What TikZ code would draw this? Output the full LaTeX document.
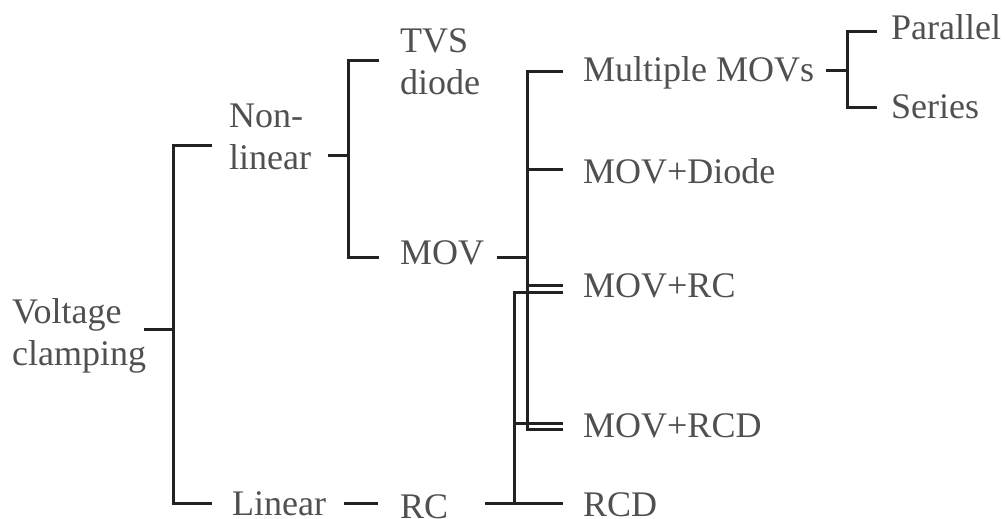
\documentclass[tikz,border=0pt]{standalone}
\usepackage{fontspec}
\setmainfont{Liberation Serif}
\definecolor{txt}{HTML}{505050}
\definecolor{ln}{HTML}{222222}
\begin{document}
\begin{tikzpicture}[x=1pt,y=-1pt,
  lbl/.style={anchor=base west,inner sep=0pt,font=\fontsize{36}{42}\selectfont,text=txt,align=left},
  conn/.style={line width=3pt,draw=ln}]
\useasboundingbox (0,0) rectangle (1005,519);
% labels (base = baseline of last line)
\node[lbl] (vc)  at (12,365)  {Voltage\\clamping};
\node[lbl] (nl)  at (229,169) {Non-\\linear};
\node[lbl] (lin) at (232,515) {Linear};
\node[lbl] (tvs) at (400,95)  {TVS\\diode};
\node[lbl] (mov) at (400,264) {MOV};
\node[lbl] (rc)  at (400,518) {RC};
\node[lbl] (mm)  at (583,82)  {Multiple MOVs};
\node[lbl] (md)  at (583,183) {MOV+Diode};
\node[lbl] (mrc) at (583,297) {MOV+RC};
\node[lbl] (mrcd) at (583,437) {MOV+RCD};
\node[lbl] (rcd) at (583,516) {RCD};
\node[lbl] (par) at (891,40)  {Parallel};
\node[lbl] (ser) at (891,118) {Series};
% junction coordinates
\coordinate (vcS) at (144,329); \coordinate (vcB) at (173,329);
\coordinate (nlE) at (212,145); \coordinate (linE) at (212,503);
\coordinate (nlS) at (328,155); \coordinate (nlB) at (348,155);
\coordinate (tvsE) at (379,61); \coordinate (movE) at (379,257);
\coordinate (linS) at (344,503); \coordinate (rcE) at (378,503);
\coordinate (movS) at (497,257); \coordinate (movB) at (527,257);
\coordinate (mmE) at (563,72); \coordinate (mdE) at (563,169);
\coordinate (mrcE1) at (563,285); \coordinate (mrcdE1) at (563,429);
\coordinate (rcS) at (485,503); \coordinate (rcB) at (514,503);
\coordinate (mrcE2) at (563,292); \coordinate (mrcdE2) at (563,423);
\coordinate (rcdE) at (563,503);
\coordinate (mmS) at (826,71); \coordinate (mmB) at (847,71);
\coordinate (parE) at (877,32); \coordinate (serE) at (877,108);
% connectors
\draw[conn] (vcS) -- (vcB);
\draw[conn] (nlE) -| (vcB) |- (linE);
\draw[conn] (nlS) -- (nlB);
\draw[conn] (tvsE) -| (nlB) |- (movE);
\draw[conn] (linS) -- (rcE);
\draw[conn] (movS) -- (movB);
\draw[conn] (mmE) -| (movB) |- (mrcdE1);
\draw[conn] (movB |- mdE) -- (mdE);
\draw[conn] (movB |- mrcE1) -- (mrcE1);
\draw[conn] (rcS) -- (rcdE);
\draw[conn] (mrcE2) -| (rcB);
\draw[conn] (rcB |- mrcdE2) -- (mrcdE2);
\draw[conn] (mmS) -- (mmB);
\draw[conn] (parE) -| (mmB) |- (serE);
\end{tikzpicture}
\end{document}
